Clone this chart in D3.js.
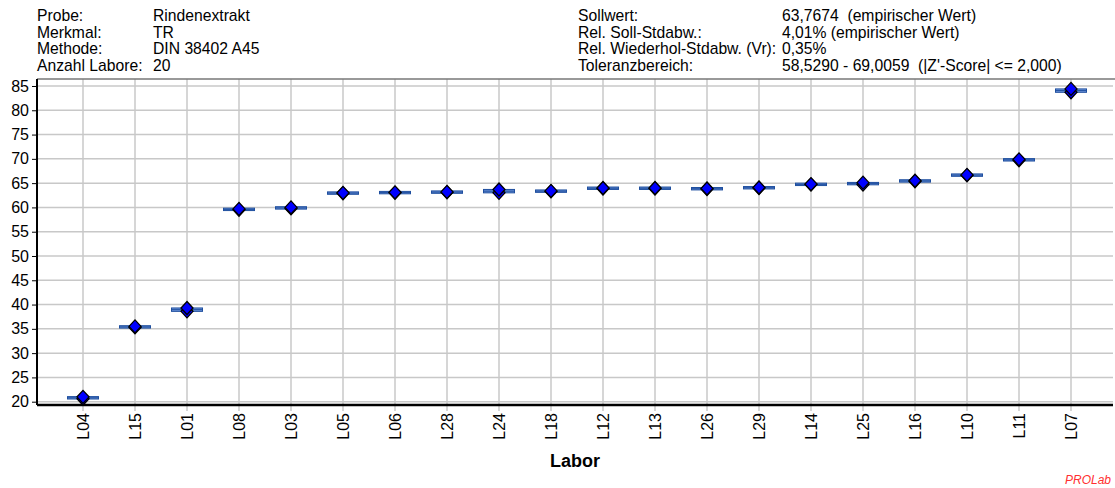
<!DOCTYPE html>
<html>
<head>
    <title>Ringversuch TR</title>
    <script src="https://d3js.org/d3.v7.min.js"></script>
    <style>
      body{ margin:0; background:white; }
      text{ font-family:"Liberation Sans", Arial, sans-serif; fill:black; }
      .kopf{ font-size:15.7px; }
      .tick text{ font-size:16px; }
      .grid line{ stroke:#c8c8c8; stroke-width:1.5; }
      .box{ fill:#6f96da; stroke:#1f4f9f; stroke-width:1; }
      .mittel{ stroke:#1f4f9f; stroke-width:1; }
      .punkt{ fill:#0000ff; stroke:black; stroke-width:1.3; }
    </style>
</head>
<body>
    <script>
      // Labore in Reihenfolge der Darstellung
      var labore=["L04","L15","L01","L08","L03","L05","L06","L28","L24","L18","L12","L13","L26","L29","L14","L25","L16","L10","L11","L07"];
      // zwei Einzelwerte je Labor
      var wert1=[21.0,35.5,39.3,59.7,60.0,63.0,63.1,63.2,63.7,63.4,64.0,64.0,63.9,64.1,64.8,65.1,65.5,66.7,69.9,84.4];
      var wert2=[20.6,35.3,38.6,59.5,59.8,62.9,63.0,63.1,63.0,63.3,63.9,63.9,63.8,64.0,64.7,64.7,65.4,66.6,69.7,83.7];
      var yTicks=[20,25,30,35,40,45,50,55,60,65,70,75,80,85];

      var kopfLinksLabel=["Probe:","Merkmal:","Methode:","Anzahl Labore:"];
      var kopfLinksWert=["Rindenextrakt","TR","DIN 38402 A45","20"];
      var kopfRechtsLabel=["Sollwert:","Rel. Soll-Stdabw.:","Rel. Wiederhol-Stdabw. (Vr):","Toleranzbereich:"];
      var kopfRechtsWert=["63,7674  (empirischer Wert)","4,01% (empirischer Wert)","0,35%","58,5290 - 69,0059  (|Z'-Score| <= 2,000)"];

      var W=1115, H=488;
      var pLeft=37, pRight=1113, pTop=79, pBottom=405;

      var svg=d3.select("body").append("svg").attr("width",W).attr("height",H);

      // Kopfzeilen
      var kopf=svg.append("g").attr("class","kopf");
      function spalte(arr,x){
        kopf.append("g").selectAll("text").data(arr).enter().append("text")
          .attr("x",x).attr("y",function(d,i){return 21+i*16.5})
          .attr("xml:space","preserve").style("white-space","pre")
          .text(function(d){return d});
      }
      spalte(kopfLinksLabel,37);
      spalte(kopfLinksWert,153);
      spalte(kopfRechtsLabel,578);
      spalte(kopfRechtsWert,782);

      var x=d3.scalePoint().domain(labore).range([83,1071]);
      var y=d3.scaleLinear().domain([19.32,86.44]).range([pBottom,pTop]);

      // Gitter
      var grid=svg.append("g").attr("class","grid");
      grid.selectAll(".h").data(yTicks).enter().append("line")
        .attr("x1",pLeft).attr("x2",pRight).attr("y1",function(d){return y(d)}).attr("y2",function(d){return y(d)});
      grid.selectAll(".v").data(labore).enter().append("line")
        .attr("x1",function(d){return x(d)}).attr("x2",function(d){return x(d)}).attr("y1",pTop).attr("y2",pBottom+6);

      // oberer Rahmen
      svg.append("line").attr("x1",pLeft).attr("x2",W).attr("y1",pTop).attr("y2",pTop)
        .attr("stroke","#777").attr("stroke-width",1.5);

      // Achsen
      var yAxis=svg.append("g").attr("transform","translate("+pLeft+",0)")
        .call(d3.axisLeft(y).tickValues(yTicks).tickSize(5).tickPadding(3));
      yAxis.select(".domain").remove();
      yAxis.selectAll(".tick line").attr("stroke","black");

      var xAxis=svg.append("g").attr("transform","translate(0,"+pBottom+")")
        .call(d3.axisBottom(x).tickSize(0).tickPadding(0));
      xAxis.select(".domain").remove();
      xAxis.selectAll(".tick text")
        .attr("transform","rotate(-90)")
        .attr("text-anchor","end")
        .attr("x",-8).attr("y",0).attr("dy","0.36em");

      svg.append("line").attr("x1",pLeft).attr("x2",pLeft).attr("y1",pTop).attr("y2",pBottom)
        .attr("stroke","black").attr("stroke-width",2);
      svg.append("line").attr("x1",pLeft).attr("x2",pRight).attr("y1",pBottom).attr("y2",pBottom)
        .attr("stroke","black").attr("stroke-width",2.5);

      // Boxen und Einzelwerte
      var daten=labore.map(function(l,i){return {lab:l,a:wert1[i],b:wert2[i]}});
      var marks=svg.append("g");
      var bw=31;
      marks.selectAll("rect").data(daten).enter().append("rect")
        .attr("class","box")
        .attr("x",function(d){return x(d.lab)-bw/2})
        .attr("width",bw)
        .attr("y",function(d){return Math.min(y(Math.max(d.a,d.b)), (y(d.a)+y(d.b))/2-1.2)})
        .attr("height",function(d){return Math.max(Math.abs(y(d.a)-y(d.b)),2.4)});
      marks.selectAll("line.mittel").data(daten).enter().append("line")
        .attr("class","mittel")
        .attr("x1",function(d){return x(d.lab)-bw/2}).attr("x2",function(d){return x(d.lab)+bw/2})
        .attr("y1",function(d){return y((d.a+d.b)/2)}).attr("y2",function(d){return y((d.a+d.b)/2)});

      var raute="M0,-6.5L6,0L0,6.5L-6,0Z";
      var punkte=[];
      daten.forEach(function(d){punkte.push({lab:d.lab,v:d.b});punkte.push({lab:d.lab,v:d.a});});
      marks.selectAll("path").data(punkte).enter().append("path")
        .attr("class","punkt").attr("d",raute)
        .attr("transform",function(d){return "translate("+x(d.lab)+","+y(d.v)+")"});

      // Achsentitel
      svg.append("text").attr("x",575).attr("y",467).attr("text-anchor","middle")
        .style("font-size","18px").style("font-weight","bold").text("Labor");

      svg.append("text").attr("x",1111).attr("y",484).attr("text-anchor","end")
        .style("font-size","12px").style("font-style","italic").style("fill","#ff3030").text("PROLab");
    </script>
</body>
</html>
